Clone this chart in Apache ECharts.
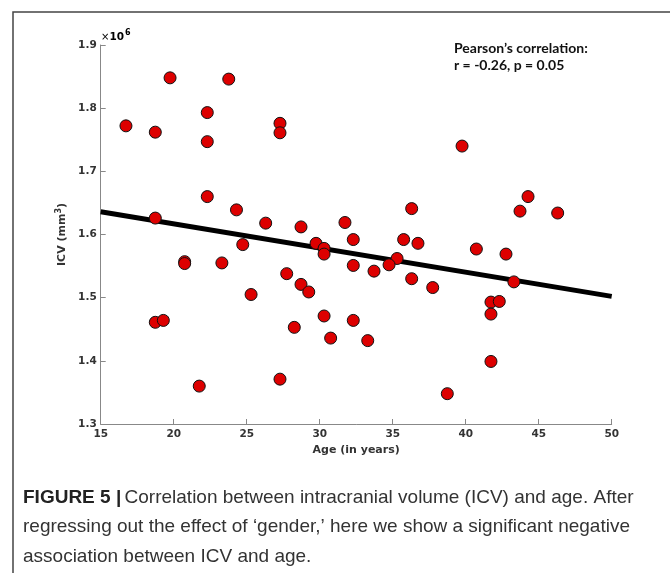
<!DOCTYPE html>
<html>
<head>
<meta charset="utf-8">
<script src="https://cdn.jsdelivr.net/npm/echarts@6/dist/echarts.min.js"></script>
<style>
html,body{margin:0;padding:0;background:#fff;}
#chart{width:670px;height:573px;}
</style>
</head>
<body>
<div id="chart"></div>
<script>
// Age (years) and ICV (mm^3) of each subject
const ages = [16.73, 18.74, 19.75, 22.3, 22.3, 23.77, 27.28, 27.28, 22.3, 24.3,
  18.74, 26.3, 28.72, 31.73, 39.75, 44.27, 43.72, 46.3, 36.3, 24.73,
  29.75, 30.3, 30.3, 32.3, 32.3, 20.75, 20.75, 23.3, 27.74, 28.72,
  29.25, 25.3, 18.74, 19.29, 30.3, 28.26, 30.75, 32.3, 21.75, 27.28,
  35.75, 36.73, 40.73, 42.76, 35.3, 33.72, 34.75, 36.3, 37.74, 43.3,
  41.73, 42.3, 41.73, 33.29, 41.73, 38.74];
const icv = [1772000, 1762000, 1848000, 1793000, 1747000, 1846000, 1776000, 1761000, 1660000, 1639000,
  1626000, 1618000, 1612000, 1619000, 1740000, 1660000, 1637000, 1634000, 1641000, 1584000,
  1586000, 1578000, 1569000, 1592000, 1551000, 1557000, 1554000, 1555000, 1538000, 1521000,
  1509000, 1505000, 1461000, 1464000, 1471000, 1453000, 1436000, 1464000, 1360000, 1371000,
  1592000, 1586000, 1577000, 1569000, 1562000, 1542000, 1552000, 1530000, 1516000, 1525000,
  1493000, 1494000, 1474000, 1432000, 1399000, 1348000];
// Regression line end points
const fitX = [15, 50];
const fitY = [1636000, 1502000];
// Axis ticks
const xTicks = [15, 20, 25, 30, 35, 40, 45, 50];
const yTicks = [1.3, 1.4, 1.5, 1.6, 1.7, 1.8, 1.9];

const chart = echarts.init(document.getElementById('chart'));
const axisFont = {fontFamily: 'DejaVu Sans', fontWeight: 'bold', fontSize: 10.5, color: '#333'};
chart.setOption({
  animation: false,
  backgroundColor: '#fff',
  grid: {left: 100.7, right: 58.3, top: 45, bottom: 149},
  xAxis: {
    type: 'value', min: xTicks[0], max: xTicks[xTicks.length - 1], interval: 5,
    name: 'Age (in years)', nameLocation: 'middle', nameGap: 19,
    nameTextStyle: {fontFamily: 'DejaVu Sans', fontWeight: 'bold', fontSize: 11, color: '#333'},
    axisLine: {onZero: false, lineStyle: {color: '#888', width: 1}},
    axisTick: {inside: true, length: 5, lineStyle: {color: '#888'}},
    axisLabel: Object.assign({margin: 5}, axisFont),
    splitLine: {show: false}
  },
  yAxis: {
    type: 'value', min: yTicks[0] * 1e6, max: yTicks[yTicks.length - 1] * 1e6, interval: 100000,
    name: '{a|ICV (mm}{s|3}{a|)}', nameLocation: 'middle', nameGap: 30, nameRotate: 90,
    nameTextStyle: {rich: {
      a: {fontFamily: 'DejaVu Sans', fontWeight: 'bold', fontSize: 11, color: '#333'},
      s: {fontFamily: 'DejaVu Sans', fontWeight: 'bold', fontSize: 8, color: '#333', verticalAlign: 'top', padding: [0, 0, 6, 0]}
    }},
    axisLine: {onZero: false, lineStyle: {color: '#888', width: 1}},
    axisTick: {inside: true, length: 5, lineStyle: {color: '#888'}},
    axisLabel: Object.assign({margin: 4, formatter: v => (v / 1e6).toFixed(1)}, axisFont),
    splitLine: {show: false}
  },
  series: [
    {
      type: 'line', data: fitX.map((x, i) => [x, fitY[i]]),
      symbol: 'none', lineStyle: {color: '#000', width: 5}, z: 2
    },
    {
      type: 'scatter', data: ages.map((a, i) => [a, icv[i]]),
      symbolSize: 12,
      itemStyle: {color: '#dd0000', borderColor: '#111', borderWidth: 1, opacity: 1},
      z: 3
    }
  ],
  graphic: [
    {type: 'rect', shape: {x: 13, y: 12, width: 700, height: 600},
     style: {fill: 'none', stroke: '#444', lineWidth: 1.5}, z: 0},
    {type: 'text', left: 101, top: 29, z: 10,
     style: {text: '{x|×}{b|10}{s|6}', rich: {
       x: {fontFamily: 'DejaVu Sans', fontSize: 10, color: '#444'},
       b: {fontFamily: 'DejaVu Sans', fontWeight: 'bold', fontSize: 10.5, color: '#333'},
       s: {fontFamily: 'DejaVu Sans', fontWeight: 'bold', fontSize: 8, color: '#333', verticalAlign: 'top', padding: [0, 0, 8, 1]}
     }}},
    {type: 'text', left: 454, top: 40, z: 10,
     style: {text: 'Pearson’s correlation:\nr = -0.26, p = 0.05', fontFamily: 'Lato', fontWeight: 'bold', fontSize: 14, lineHeight: 17, fill: '#111'}},
    {type: 'text', left: 23, top: 488, z: 10,
     style: {text: '{b|FIGURE 5 |} {r|Correlation between intracranial volume (ICV) and age. After}\n{r|regressing out the effect of ‘gender,’ here we show a significant negative}\n{r|association between ICV and age.}',
       rich: {
         b: {fontFamily: 'Liberation Sans', fontWeight: 'bold', fontSize: 19, lineHeight: 29.5, fill: '#222'},
         r: {fontFamily: 'Liberation Sans', fontSize: 19, lineHeight: 29.5, fill: '#333'}
       }}}
  ]
});
</script>
</body>
</html>
